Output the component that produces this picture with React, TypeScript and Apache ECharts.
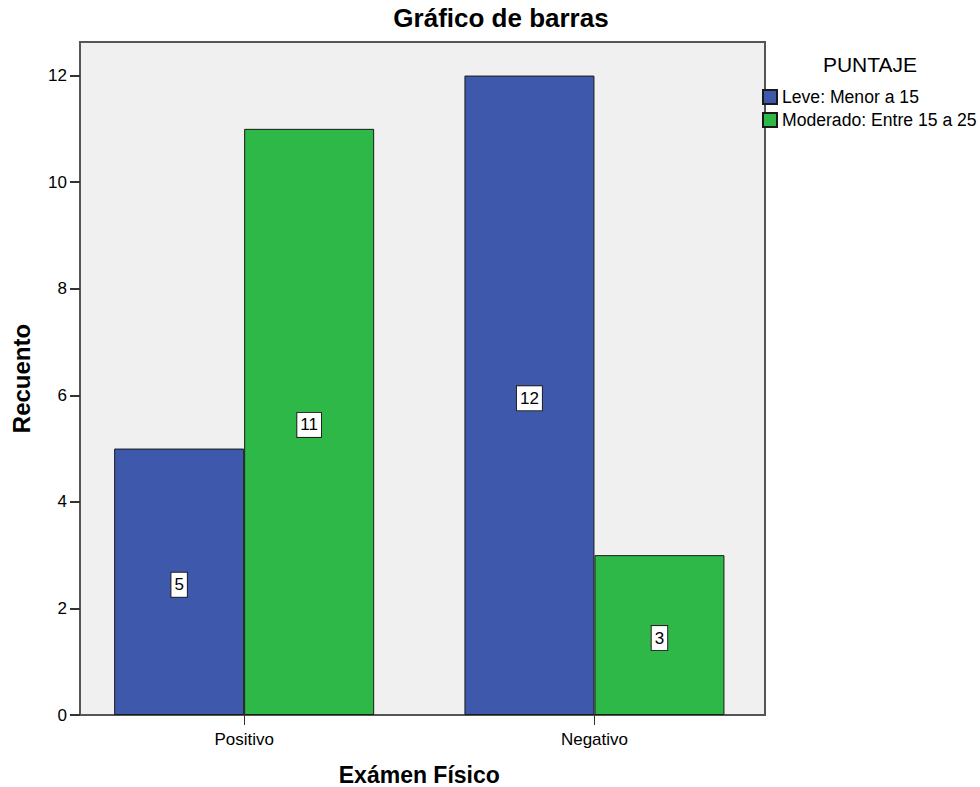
import React, { useEffect, useRef } from "react";
import * as echarts from "echarts";

const categories = ["Positivo", "Negativo"];
const seriesNames = ["Leve: Menor a 15", "Moderado: Entre 15 a 25"];
const leveValues = [5, 12];
const moderadoValues = [11, 3];
const yTicks = [0, 2, 4, 6, 8, 10, 12];
const yMax = 12.63;

const FONT = "'Liberation Sans', Arial, sans-serif";

export default function App() {
  const ref = useRef<HTMLDivElement>(null);

  useEffect(() => {
    if (!ref.current) return;
    const chart = echarts.init(ref.current, null, { renderer: "svg" });

    const labelStyle = {
      show: true,
      position: "inside" as const,
      offset: [0, 3],
      color: "#000",
      fontFamily: FONT,
      fontSize: 17,
      backgroundColor: "#fff",
      borderColor: "#222",
      borderWidth: 1,
      padding: [4, 3, 3, 3],
    };

    chart.setOption({
      animation: false,
      textStyle: { fontFamily: FONT },
      title: [
        {
          text: "Gráfico de barras",
          left: 501,
          top: 5,
          textAlign: "center",
          padding: 0,
          textStyle: { fontFamily: FONT, fontSize: 26, fontWeight: "bold", color: "#000" },
        },
        {
          text: "PUNTAJE",
          left: 870,
          top: 54,
          textAlign: "center",
          padding: 0,
          textStyle: { fontFamily: FONT, fontSize: 21, fontWeight: "normal", color: "#000" },
        },
      ],
      legend: {
        orient: "vertical",
        left: 757,
        top: 83,
        itemWidth: 14,
        itemHeight: 14,
        itemGap: 5,
        icon: "rect",
        data: seriesNames,
        textStyle: { fontFamily: FONT, fontSize: 17.6, color: "#000" },
      },
      grid: [
        {
          left: 80,
          top: 42,
          width: 685,
          height: 673,
          outerBoundsMode: "none",
          containLabel: false,
          show: true,
          backgroundColor: "#F0F0F0",
          borderColor: "#555",
          borderWidth: 2,
        },
        {
          left: 69,
          top: 42,
          width: 700.6,
          height: 673,
          outerBoundsMode: "none",
          containLabel: false,
        },
      ],
      xAxis: [
        {
          gridIndex: 0,
          type: "category",
          data: categories,
          show: false,
        },
        {
          gridIndex: 1,
          type: "category",
          data: categories,
          axisLine: { show: false },
          axisTick: { show: true, alignWithLabel: true, length: 10, lineStyle: { color: "#333", width: 1 } },
          axisLabel: { color: "#000", fontSize: 17, fontFamily: FONT, margin: 16 },
          name: "Exámen Físico",
          nameLocation: "middle",
          nameGap: 48,
          nameTextStyle: { fontFamily: FONT, fontSize: 23, fontWeight: "bold", color: "#000" },
          z: 5,
        },
      ],
      yAxis: [
        {
          gridIndex: 0,
          type: "value",
          min: 0,
          max: yMax,
          interval: 2,
          splitLine: { show: false },
          axisLine: { show: true, lineStyle: { color: "#555", width: 2 } },
          axisTick: {
            show: true,
            length: 10,
            customValues: yTicks,
            lineStyle: { color: "#333", width: 2 },
          },
          axisLabel: {
            color: "#000",
            fontSize: 17,
            fontFamily: FONT,
            margin: 13,
            customValues: yTicks,
          },
          name: "Recuento",
          nameLocation: "middle",
          nameGap: 47,
          nameTextStyle: { fontFamily: FONT, fontSize: 24, fontWeight: "bold", color: "#000" },
        },
        {
          gridIndex: 1,
          type: "value",
          min: 0,
          max: yMax,
          show: false,
          splitLine: { show: false },
        },
      ],
      series: [
        {
          name: seriesNames[0],
          type: "bar",
          xAxisIndex: 1,
          yAxisIndex: 1,
          data: leveValues,
          barWidth: 130,
          barGap: "0%",
          itemStyle: { color: "#3E58AC", borderColor: "#1a1a1a", borderWidth: 1 },
          label: labelStyle,
        },
        {
          name: seriesNames[1],
          type: "bar",
          xAxisIndex: 1,
          yAxisIndex: 1,
          data: moderadoValues,
          barWidth: 130,
          barGap: "0%",
          itemStyle: { color: "#2EB848", borderColor: "#1a1a1a", borderWidth: 1 },
          label: labelStyle,
        },
      ],
    });

    return () => chart.dispose();
  }, []);

  return (
    <div
      ref={ref}
      style={{ position: "fixed", left: 0, top: 0, width: 980, height: 787, background: "#fff" }}
    />
  );
}
